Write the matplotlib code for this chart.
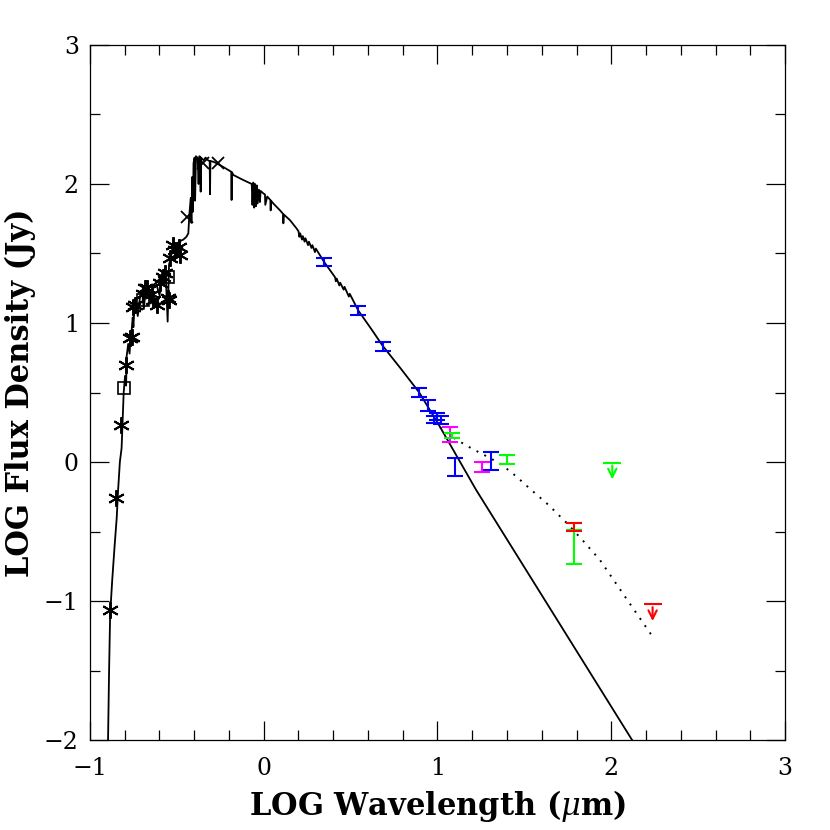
import numpy as np
import matplotlib
matplotlib.use('Agg')
import matplotlib.pyplot as plt

# model photosphere, points (absorption spikes kept as extra points)
model_x = [-0.896, -0.890, -0.884, -0.872, -0.858, -0.846, -0.838, -0.828, -0.818, -0.812,
           -0.806, -0.798, -0.792, -0.789, -0.780, -0.772, -0.766, -0.760, -0.754, -0.750,
           -0.745, -0.735, -0.725, -0.712, -0.700, -0.690, -0.680, -0.660, -0.650, -0.636,
           -0.620, -0.600, -0.578, -0.565, -0.553, -0.545, -0.530, -0.520, -0.500, -0.480,
           -0.463, -0.445, -0.434, -0.428, -0.420, -0.416, -0.412, -0.408, -0.404, -0.398,
           -0.395, -0.390, -0.380, -0.375, -0.370, -0.365, -0.363, -0.361, -0.345, -0.335,
           -0.320, -0.311, -0.309, -0.307, -0.290, -0.271, -0.230, -0.187, -0.185, -0.183,
           -0.175, -0.120, -0.069, -0.065, -0.060, -0.055, -0.050, -0.045, -0.040, -0.035,
           -0.028, -0.022, -0.018, 0.000, 0.007, 0.009, 0.020, 0.038, 0.040, 0.042,
           0.055, 0.094, 0.111, 0.113, 0.116, 0.151, 0.189, 0.200, 0.205, 0.210,
           0.220, 0.225, 0.235, 0.240, 0.255, 0.260, 0.275, 0.280, 0.295, 0.300,
           0.347, 0.410, 0.415, 0.420, 0.435, 0.440, 0.460, 0.465, 0.490, 0.495,
           0.544, 0.620, 0.685, 0.790, 0.895, 1.014, 1.222, 2.125]
model_y = [-2.00, -1.50, -1.10, -0.85, -0.60, -0.40, -0.20, 0.00, 0.10, 0.30,
           0.50, 0.62, 0.55, 0.76, 0.85, 0.78, 0.92, 0.95, 1.04, 0.97,
           1.10, 1.15, 1.05, 1.19, 1.22, 1.10, 1.24, 1.26, 1.14, 1.27,
           1.29, 1.20, 1.35, 1.38, 1.01, 1.42, 1.50, 1.55, 1.56, 1.59,
           1.60, 1.62, 1.645, 1.78, 1.90, 1.72, 2.05, 1.80, 2.15, 2.19,
           1.88, 2.20, 2.18, 2.00, 2.20, 2.19, 1.945, 2.19, 2.17, 2.19,
           2.17, 2.165, 1.926, 2.165, 2.16, 2.149, 2.12, 2.088, 1.885, 2.085,
           2.065, 2.03, 2.00, 1.85, 2.01, 1.83, 2.00, 1.84, 1.99, 1.86,
           1.96, 1.87, 1.95, 1.93, 1.925, 1.85, 1.91, 1.885, 1.81, 1.88,
           1.86, 1.81, 1.785, 1.717, 1.78, 1.74, 1.68, 1.66, 1.62, 1.645,
           1.60, 1.625, 1.585, 1.61, 1.56, 1.585, 1.54, 1.56, 1.51, 1.535,
           1.44, 1.33, 1.30, 1.32, 1.27, 1.29, 1.24, 1.26, 1.19, 1.21,
           1.09, 0.955, 0.835, 0.67, 0.50, 0.254, -0.20, -2.01]

# model with dust excess (dotted)
dust_x = [1.014, 1.11, 1.20, 1.30, 1.37, 1.45, 1.53, 1.64, 1.745, 1.84, 1.935, 2.08, 2.24]
dust_y = [0.25, 0.16, 0.095, 0.03, -0.02, -0.10, -0.19, -0.31, -0.44, -0.57, -0.705, -0.97, -1.26]

# optical / near-IR photometry
star_x = [-0.885, -0.850, -0.823, -0.793, -0.770, -0.760, -0.751, -0.741, -0.693, -0.683,
          -0.674, -0.645, -0.636, -0.616, -0.597, -0.578, -0.568, -0.549, -0.544, -0.540,
          -0.520, -0.511, -0.490, -0.482]
star_y = [-1.065, -0.257, 0.266, 0.698, 0.89, 0.90, 1.117, 1.13, 1.21, 1.25,
          1.25, 1.21, 1.165, 1.13, 1.285, 1.333, 1.357, 1.178, 1.165, 1.465,
          1.56, 1.525, 1.55, 1.489]
square_x = [-0.806, -0.693, -0.549]
square_y = [0.535, 1.165, 1.333]
cross_x = [-0.444, -0.348, -0.262]
cross_y = [1.765, 2.153, 2.149]

# infrared photometry with error bars: x, lower, upper
blue_x = [0.347, 0.544, 0.685, 0.895, 0.944, 0.980, 1.000, 1.020, 1.100, 1.306]
blue_lo = [1.41, 1.058, 0.80, 0.47, 0.369, 0.28, 0.30, 0.27, -0.10, -0.058]
blue_hi = [1.47, 1.122, 0.866, 0.535, 0.446, 0.33, 0.35, 0.33, 0.027, 0.072]
mag_x = [1.072, 1.258]
mag_lo = [0.146, -0.07]
mag_hi = [0.25, -0.002]
green_x = [1.082, 1.402, 1.786]
green_lo = [0.17, -0.014, -0.736]
green_hi = [0.206, 0.05, -0.486]
red_x = [1.786]
red_lo = [-0.494]
red_hi = [-0.437]

# upper limits
lim_x = [2.006, 2.238]
lim_y = [-0.005, -1.024]
lim_c = ['#00ff00', '#ff0000']

plt.rcParams['font.family'] = ['DejaVu Serif']
plt.rcParams['mathtext.fontset'] = 'dejavuserif'

fig = plt.figure(figsize=(8.3, 8.3), dpi=100)
ax = fig.add_axes([0.1084, 0.1084, 0.8374, 0.8374])

ax.plot(model_x, model_y, color='black', lw=1.3, zorder=2)
ax.plot(dust_x, dust_y, color='black', lw=1.4, linestyle=(0, (1, 3.5)), zorder=2)

ax.plot(star_x, star_y, linestyle='none', marker=(6, 2, 0), ms=12, mew=1.4, color='black', zorder=3)
ax.plot(square_x, square_y, linestyle='none', marker='s', ms=8, mew=1.2, mfc='none', mec='black', zorder=3)
ax.plot(cross_x, cross_y, linestyle='none', marker='x', ms=9, mew=1.3, color='black', zorder=3)

def bars(x, lo, hi, c):
    lo = np.array(lo)
    hi = np.array(hi)
    ax.errorbar(x, (lo + hi) / 2, yerr=(hi - lo) / 2, fmt='none', ecolor=c,
                elinewidth=1.5, capsize=6, capthick=1.5, zorder=4)

bars(blue_x, blue_lo, blue_hi, '#0000ff')
bars(mag_x, mag_lo, mag_hi, '#ff00ff')
bars(green_x, green_lo, green_hi, '#00ff00')
bars(red_x, red_lo, red_hi, '#ff0000')

for x, y, c in zip(lim_x, lim_y, lim_c):
    ax.plot([x], [y], marker='_', ms=13, mew=1.5, color=c, zorder=4)
    ax.annotate('', xy=(x, y - 0.14), xytext=(x, y),
                arrowprops=dict(arrowstyle='->,head_width=0.3,head_length=0.6', color=c, lw=1.5))

ax.set_xlim(-1, 3)
ax.set_ylim(-2, 3)
ax.set_xticks([-1, 0, 1, 2, 3])
ax.set_yticks([-2, -1, 0, 1, 2, 3])
ax.set_xticks(np.arange(-1, 3.01, 0.2), minor=True)
ax.set_yticks(np.arange(-2, 3.01, 0.5), minor=True)
ax.tick_params(which='both', direction='in', top=True, right=True, width=0.9, labelsize=17)
ax.tick_params(which='major', length=14)
ax.tick_params(which='minor', length=7)
ax.tick_params(axis='x', pad=12)
ax.tick_params(axis='y', pad=8)
for s in ax.spines.values():
    s.set_linewidth(0.9)

ax.set_xlabel(r'LOG Wavelength ($\mu$m)', fontsize=22, fontweight='bold', labelpad=6)
ax.set_ylabel('LOG Flux Density (Jy)', fontsize=22, fontweight='bold', labelpad=6)

fig.savefig('out.png', dpi=100)
